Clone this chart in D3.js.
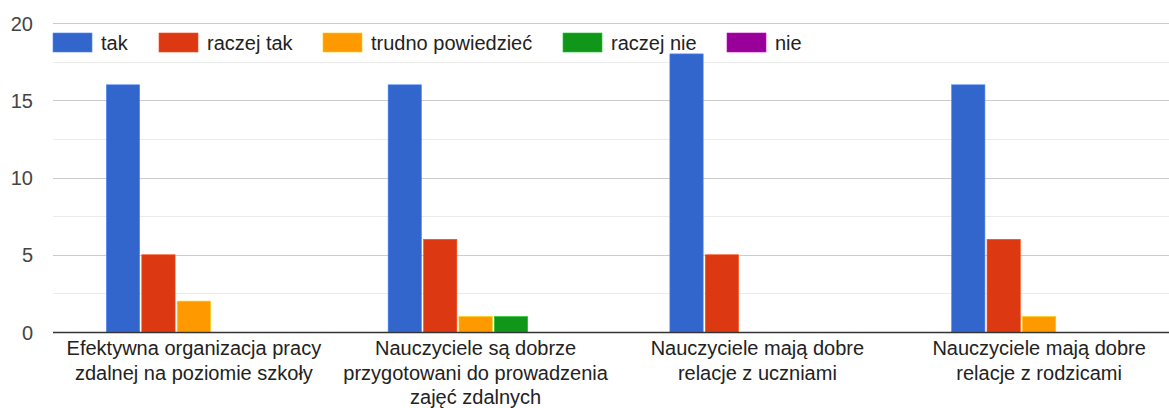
<!DOCTYPE html>
<html><head><meta charset="utf-8">
<script src="https://cdn.jsdelivr.net/npm/d3@7"></script>
<style>body{margin:0;background:#fff;}svg{display:block;font-family:Arial,"Liberation Sans",sans-serif;}</style>
</head><body><svg id="c" width="1169" height="408"></svg>
<script>
const categories = [
  ["Efektywna organizacja pracy","zdalnej na poziomie szkoły"],
  ["Nauczyciele są dobrze","przygotowani do prowadzenia","zajęć zdalnych"],
  ["Nauczyciele mają dobre","relacje z uczniami"],
  ["Nauczyciele mają dobre","relacje z rodzicami"]
];
const seriesNames = ["tak","raczej tak","trudno powiedzieć","raczej nie","nie"];
const tak = [16,16,18,16];
const raczejTak = [5,6,5,6];
const trudno = [2,1,0,1];
const raczejNie = [0,1,0,0];
const nie = [0,0,0,0];
const yTicks = [0,5,10,15,20];
const colors = ["#3366cc","#dc3912","#ff9900","#109618","#990099"];
const series = [tak,raczejTak,trudno,raczejNie,nie];

(function(){
const svg = d3.select("#c");
const pLeft = 53, pRight = 1180, pTop = 23, pBottom = 332;
const x = d3.scaleBand().domain(d3.range(categories.length)).range([pLeft,pRight]);
const y = d3.scaleLinear().domain([0,20]).range([pBottom,pTop]);
const inner = d3.scaleBand().domain(d3.range(seriesNames.length)).range([0,175]).paddingInner(0.06);
const groupOffset = (x.bandwidth()-175)/2;

const minor = d3.range(2.5,20,5);
svg.append("g").selectAll("line").data(minor).join("line")
  .attr("x1",pLeft).attr("x2",1169).attr("y1",d=>Math.round(y(d))+0.5).attr("y2",d=>Math.round(y(d))+0.5)
  .attr("stroke","#ebebeb").attr("stroke-width",1);
svg.append("g").selectAll("line").data(yTicks.filter(d=>d>0)).join("line")
  .attr("x1",pLeft).attr("x2",1169).attr("y1",d=>Math.round(y(d))+0.5).attr("y2",d=>Math.round(y(d))+0.5)
  .attr("stroke","#cccccc").attr("stroke-width",1);

const yAxis = d3.axisLeft(y).tickValues(yTicks).tickSize(0).tickPadding(0);
const ya = svg.append("g").attr("transform",`translate(33,0)`).call(yAxis);
ya.select(".domain").remove();
ya.selectAll("text").attr("font-size",20).attr("fill","#444").attr("font-family","Arial,'Liberation Sans',sans-serif").attr("dy","0.35em");

series.forEach((vals,si)=>{
  svg.append("g").selectAll("rect").data(vals.map((v,i)=>({v,i})).filter(d=>d.v>0)).join("rect")
    .attr("x",d=>x(d.i)+groupOffset+inner(si))
    .attr("width",inner.bandwidth())
    .attr("y",d=>y(d.v))
    .attr("height",d=>y(0)-y(d.v))
    .attr("fill",colors[si])
    .attr("stroke",d3.color(colors[si]).brighter(0.8))
    .attr("stroke-width",0.6);
});

svg.append("line").attr("x1",pLeft).attr("x2",1169).attr("y1",y(0)+0.5).attr("y2",y(0)+0.5)
  .attr("stroke","#333").attr("stroke-width",1.5);

const xg = svg.append("g");
categories.forEach((lines,i)=>{
  const t = xg.append("text").attr("text-anchor","middle").attr("font-size",20).attr("fill","#222");
  lines.forEach((ln,j)=>{
    t.append("tspan").attr("x",x(i)+x.bandwidth()/2).attr("y",355+j*24.5).text(ln);
  });
});

const legendX = [53,159,323,563,727];
const lg = svg.append("g");
seriesNames.forEach((n,i)=>{
  lg.append("rect").attr("x",legendX[i]).attr("y",33).attr("width",39).attr("height",19)
    .attr("fill",colors[i]).attr("stroke",d3.color(colors[i]).brighter(0.8)).attr("stroke-width",0.6);
  lg.append("text").attr("x",legendX[i]+48).attr("y",50).attr("font-size",20).attr("fill","#222").text(n);
});
})();
</script>
</body></html>
